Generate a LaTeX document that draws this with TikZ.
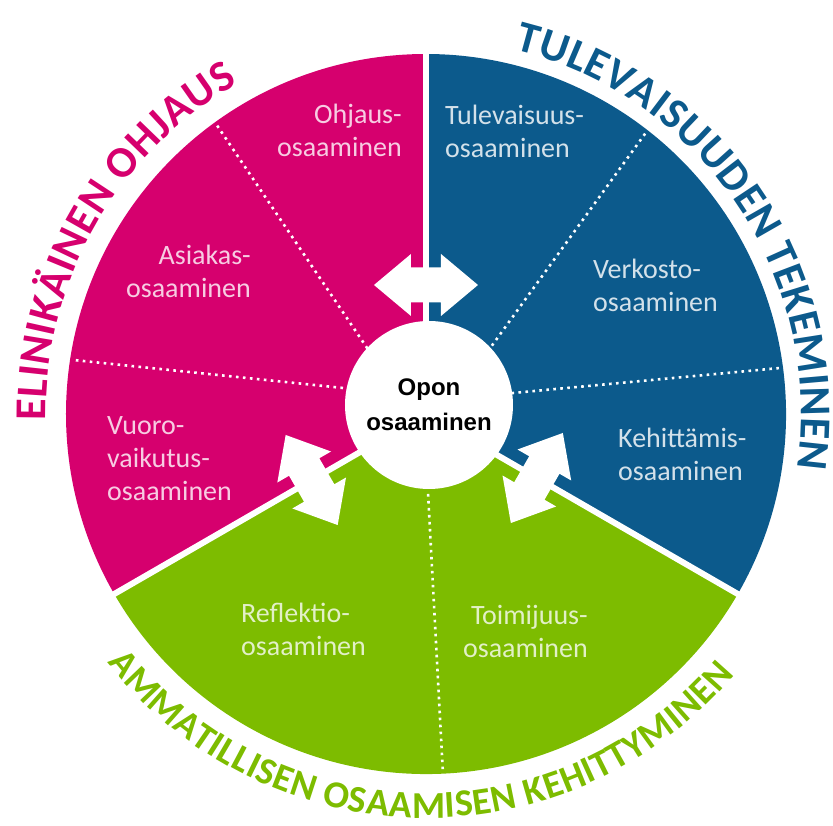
\documentclass[tikz,border=0pt]{standalone}
\usepackage{fontspec}
\setmainfont{Carlito}
\newfontfamily\oponfont{Liberation Sans}
\usetikzlibrary{decorations.text}
\definecolor{ohjaus}{RGB}{214,0,110}
\definecolor{tulevaisuus}{RGB}{12,90,140}
\definecolor{ammatti}{RGB}{125,188,0}
\colorlet{ohjausteksti}{white!80!ohjaus}
\colorlet{tulevaisuusteksti}{white!82!tulevaisuus}
\colorlet{ammattiteksti}{white!78!ammatti}

\begin{document}
\begin{tikzpicture}[x=1pt,y=1pt,
  osa/.style={inner sep=0pt, font=\fontsize{28}{33}\selectfont},
  jako/.style={white, line width=6pt},
  piste/.style={white, line width=2.6pt, dash pattern=on 2.6pt off 4.4pt},
  nuoli/.style={fill=white},
  otsikko/.style={decorate, decoration={text along path, text align={fit to path}}}]
\useasboundingbox (-426,-412) rectangle (407,414);
\fill[ohjaus] (0,0) -- (90:360) arc[start angle=90, end angle=210, radius=360] -- cycle;
\fill[tulevaisuus] (0,0) -- (-30:360) arc[start angle=-30, end angle=90, radius=360] -- cycle;
\fill[ammatti] (0,0) -- (210:360) arc[start angle=210, end angle=330, radius=360] -- cycle;
\draw[piste] (131.8:88) -- (125.9:358);
\draw[piste] (162.6:87) -- (171.3:358);
\draw[piste] (45.4:88) -- (52:358);
\draw[piste] (13.7:88) -- (7.4:358);
\draw[piste] (271.5:80) -- (272.7:356);
\draw[jako] (0,0) -- (90:362);
\draw[jako] (0,0) -- (210:362);
\draw[jako] (0,0) -- (330:362);
\node [circle, fill=white, minimum size=168, inner sep=0pt, align=center, font=\oponfont\bfseries\fontsize{24}{35}\selectfont] (opon) at (3,9) {Opon\\osaaminen};
\fill[nuoli, shift={(90:129)}, rotate=0] (-52,0) -- (-15,31) -- (-15,17.5) -- (15,17.5) -- (15,31) -- (52,0) -- (15,-31) -- (15,-17.5) -- (-15,-17.5) -- (-15,-31) -- cycle;
\fill[nuoli, shift={(210:132)}, rotate=120] (-52,0) -- (-15,31) -- (-15,17.5) -- (15,17.5) -- (15,31) -- (52,0) -- (15,-31) -- (15,-17.5) -- (-15,-17.5) -- (-15,-31) -- cycle;
\fill[nuoli, shift={(330:128)}, rotate=60] (-52,0) -- (-15,31) -- (-15,17.5) -- (15,17.5) -- (15,31) -- (52,0) -- (15,-31) -- (15,-17.5) -- (-15,-17.5) -- (-15,-31) -- cycle;
\node [osa, ohjausteksti, align=right, anchor=east] (ohj) at (-24,284) {Ohjaus-\\osaaminen};
\node [osa, ohjausteksti, align=right, anchor=east] (asi) at (-175,143) {Asiakas-\\osaaminen};
\node [osa, ohjausteksti, align=left, anchor=west] (vuo) at (-319,-45) {Vuoro-\\vaikutus-\\osaaminen};
\node [osa, tulevaisuusteksti, align=left, anchor=west] (tul) at (19,283) {Tulevaisuus-\\osaaminen};
\node [osa, tulevaisuusteksti, align=left, anchor=west] (ver) at (167,129) {Verkosto-\\osaaminen};
\node [osa, tulevaisuusteksti, align=left, anchor=west] (keh) at (192,-40) {Kehittämis-\\osaaminen};
\node [osa, ammattiteksti, align=left, anchor=west] (ref) at (-185,-215) {Reflektio-\\osaaminen};
\node [osa, ammattiteksti, align=right, anchor=east] (toi) at (162,-217) {Toimijuus-\\osaaminen};
\path[otsikko, decoration={text={|\fontsize{44}{44}\selectfont\bfseries\color{ohjaus}|ELINIKÄINEN OHJAUS}}] (181:380) arc[start angle=181, end angle=119.7, radius=380];
\path[otsikko, decoration={text={|\fontsize{44}{44}\selectfont\bfseries\color{tulevaisuus}|TULEVAISUUDEN TEKEMINEN}}] (76.3:375) arc[start angle=76.3, end angle=-8.3, radius=375];
\path[otsikko, decoration={text={|\fontsize{38}{38}\selectfont\bfseries\color{ammatti}|AMMATILLISEN OSAAMISEN KEHITTYMINEN}}] (218:404) arc[start angle=218, end angle=319.8, radius=404];
\end{tikzpicture}
\end{document}
